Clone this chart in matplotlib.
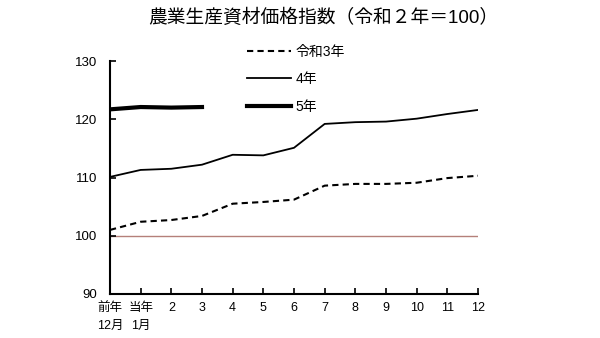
import numpy as np
import matplotlib.pyplot as plt

plt.rcParams['font.family'] = ['Liberation Sans', 'Noto Sans CJK JP', 'DejaVu Sans']

# 農業生産資材価格指数（令和2年=100）
months = ['前年\n12月', '当年\n1月', '2', '3', '4', '5', '6', '7', '8', '9', '10', '11', '12']
r3 = [101.0, 102.4, 102.7, 103.4, 105.5, 105.8, 106.2, 108.6, 108.9, 108.9, 109.1, 109.9, 110.3]
r4 = [110.1, 111.3, 111.5, 112.2, 113.9, 113.8, 115.1, 119.2, 119.5, 119.6, 120.1, 120.9, 121.6]
r5 = [121.7, 122.1, 122.0, 122.1]

x = np.arange(len(months))

fig = plt.figure(figsize=(6, 3.38), dpi=100)
ax = fig.add_axes([0.1833, 0.1302, 0.6134, 0.6893])

ax.axhline(100, color='#b5807a', lw=1.0, zorder=1)
l3, = ax.plot(x, r3, color='black', lw=1.5, ls=(0, (3, 2)), label='令和3年')
l4, = ax.plot(x, r4, color='black', lw=1.3, label='4年')
l5, = ax.plot(x[:len(r5)], r5, color='black', lw=3.0, label='5年')

ax.set_xlim(0, len(months) - 1)
ax.set_ylim(90, 130)
ax.set_yticks([90, 100, 110, 120, 130])
ax.set_xticks(x)
ax.set_xticklabels(months, fontsize=9, linespacing=1.6)
ax.tick_params(axis='both', direction='in', length=4, width=1.2)
ax.tick_params(axis='x', pad=6, labelsize=9)
ax.tick_params(axis='y', pad=9, labelsize=9.5)

for s in ['top', 'right']:
    ax.spines[s].set_visible(False)
for s in ['left', 'bottom']:
    ax.spines[s].set_linewidth(1.5)

leg = fig.legend(handles=[l3, l4, l5], loc='upper left', bbox_to_anchor=(0.39, 0.905),
                 frameon=False, fontsize=10, handlelength=3.2, handletextpad=0.35,
                 labelspacing=0.98)

fig.suptitle('農業生産資材価格指数（令和２年＝100）', x=0.538, y=0.975, fontsize=13.5)

fig.savefig('out.png', dpi=100)
